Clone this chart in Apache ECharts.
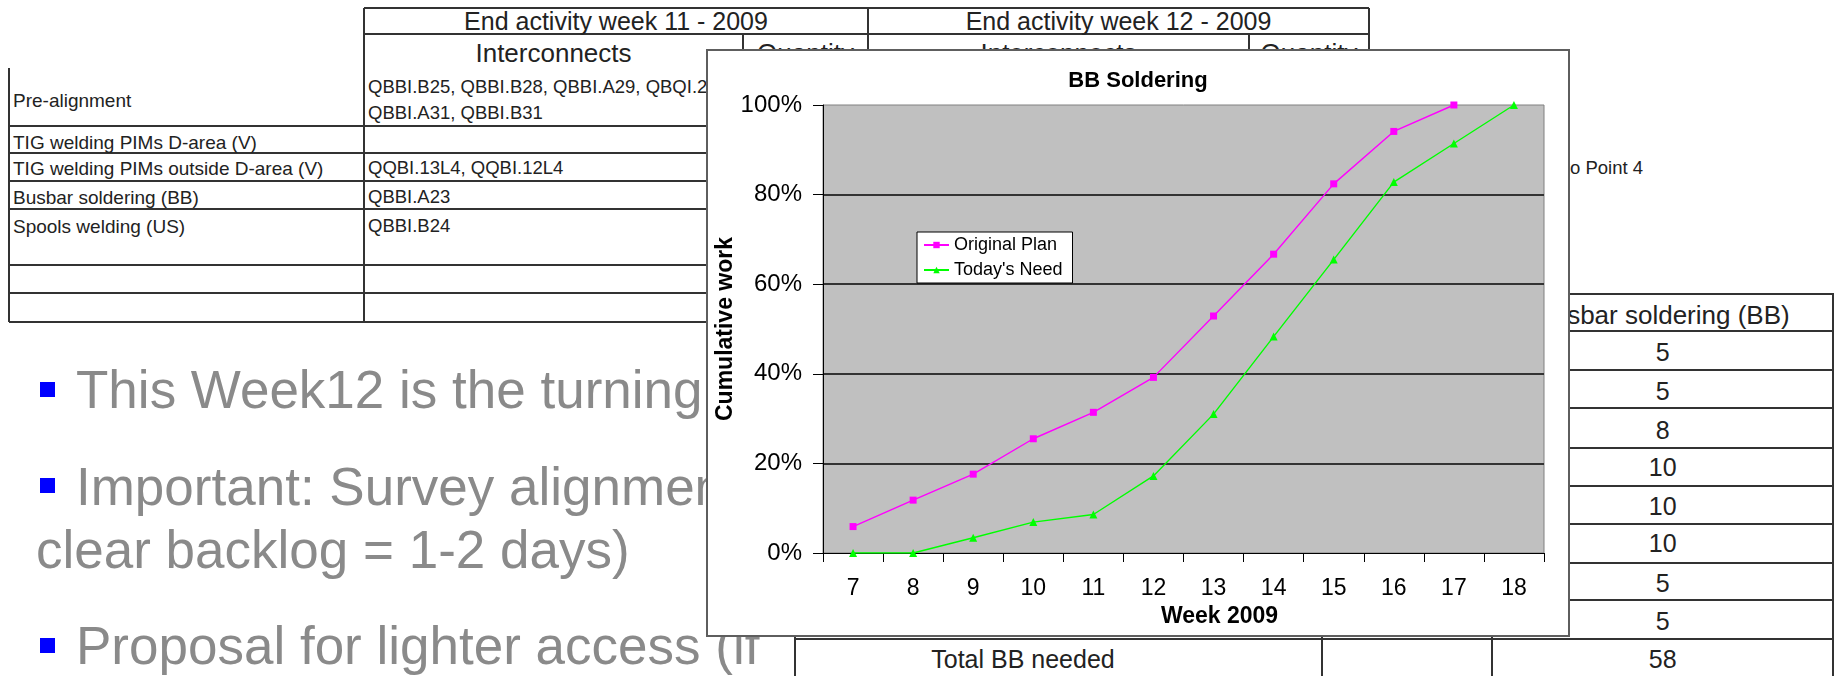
<!DOCTYPE html>
<html><head><meta charset="utf-8">
<script src="https://cdn.jsdelivr.net/npm/echarts@6/dist/echarts.min.js"></script>
<style>
html,body{margin:0;padding:0;background:#fff;overflow:hidden;width:1839px;height:676px}
#slide{position:absolute;left:0;top:0;width:1839px;height:676px;overflow:hidden;font-family:'Liberation Sans',Arial,sans-serif}
.t{position:absolute;white-space:nowrap;color:#222}
.ln{position:absolute;background:#333}
#chart{position:absolute;left:0;top:0;width:1839px;height:676px;z-index:10}
</style></head>
<body>
<div id="slide"></div>
<div id="chart"></div>
<script>
// ---------- data ----------
const weeks = ['7','8','9','10','11','12','13','14','15','16','17','18'];
const originalPlan = [5.9, 11.8, 17.6, 25.5, 31.4, 39.2, 52.9, 66.7, 82.4, 94.1, 100];
const todaysNeed = [0, 0, 3.4, 6.9, 8.6, 17.2, 31.0, 48.3, 65.5, 82.8, 91.4, 100];
const seriesNames = ['Original Plan', "Today's Need"];
const chartTitle = 'BB Soldering';
const xAxisTitle = 'Week 2009';
const yAxisTitle = 'Cumulative work';

const headerWeeks = ['End activity week 11 - 2009', 'End activity week 12 - 2009'];
const subHeaders = ['Interconnects', 'Quantity', 'Interconnects', 'Quantity'];
const rowLabels = ['Pre-alignment', 'TIG welding PIMs D-area (V)', 'TIG welding PIMs outside D-area (V)', 'Busbar soldering (BB)', 'Spools welding (US)'];
const week11Items = ['QBBI.B25, QBBI.B28, QBBI.A29, QBQI.29,', 'QBBI.A31, QBBI.B31', '', 'QQBI.13L4, QQBI.12L4', 'QBBI.A23', 'QBBI.B24'];
const bbHeader = 'Busbar soldering (BB)';
const bbPerWeek = ['5', '5', '8', '10', '10', '10', '5', '5'];
const bbTotalLabel = 'Total BB needed';
const bbTotal = '58';
const sideNote = 'to Point 4';
const bullets = ['This Week12 is the turning point', 'Important: Survey alignment', 'clear backlog = 1-2 days)', 'Proposal for lighter access (if'];

// ---------- slide background (HTML) ----------
const slide = document.getElementById('slide');
function el(cls, css, txt) {
  const d = document.createElement('div');
  d.className = cls;
  d.style.cssText = css;
  if (txt !== undefined) d.textContent = txt;
  slide.appendChild(d);
  return d;
}
function hline(y, x1, x2, z) { el('ln', `left:${x1}px;top:${y - 1}px;width:${x2 - x1}px;height:2px;z-index:${z}`); }
function vline(x, y1, y2, z) { el('ln', `left:${x - 1}px;top:${y1}px;width:2px;height:${y2 - y1}px;z-index:${z}`); }
function txtL(s, x, cy, fs, z, extra) { el('t', `left:${x}px;top:${cy - fs / 2}px;font-size:${fs}px;line-height:${fs}px;z-index:${z};${extra || ''}`, s); }
function txtC(s, cx, cy, fs, z, extra) { el('t', `left:${cx}px;top:${cy - fs / 2}px;font-size:${fs}px;line-height:${fs}px;transform:translateX(-50%);z-index:${z};${extra || ''}`, s); }
function txtR(s, rx, cy, fs, z, extra) { el('t', `right:${1839 - rx}px;top:${cy - fs / 2}px;font-size:${fs}px;line-height:${fs}px;z-index:${z};${extra || ''}`, s); }

// bullets
const gray = 'color:#8a8a8a';
const bulletSq = [389, 485, null, 645];
const bulletCy = [389.5, 486, 549, 645];
const bulletX = [76, 76, 36, 76];
bullets.forEach((b, i) => {
  if (bulletSq[i] !== null) el('t', `left:40px;top:${bulletSq[i] - 7.5}px;width:15px;height:15px;background:#0000ff;z-index:1`);
  txtL(b, bulletX[i], bulletCy[i], 53, 1, gray);
});

// top table
[[8, 364, 1369], [34, 364, 1369]].forEach(a => hline(a[0], a[1], a[2], 2));
[126, 152.7, 181, 209.3, 265, 293.3, 321.7].forEach(y => hline(y, 9, 1369, 2));
[[9, 68, 322], [364, 8, 322], [743, 34, 322], [868, 8, 322], [1249, 34, 322], [1369, 8, 322]].forEach(a => vline(a[0], a[1], a[2], 2));
txtC(headerWeeks[0], 616, 21, 25, 2);
txtC(headerWeeks[1], 1118.5, 21, 25, 2);
txtC(subHeaders[0], 553.5, 53, 26, 2);
txtC(subHeaders[1], 805.5, 53, 26, 2);
txtC(subHeaders[2], 1058.5, 53, 26, 2);
txtC(subHeaders[3], 1309, 53, 26, 2);
const rowCy = [100, 142, 168, 197, 226];
rowLabels.forEach((s, i) => txtL(s, 13, rowCy[i], 19, 2));
const itemCy = [87, 113, 142, 168, 197, 226];
week11Items.forEach((s, i) => { if (s) txtL(s, 368, itemCy[i], 18.5, 2); });

// side note
txtR(sideNote, 1643, 168, 18.5, 2);

// right table (white cells over the bullet text)
el('t', `left:795px;top:293px;width:1045px;height:390px;background:#fff;z-index:3`);
const rtY = [293.6, 331.3, 369.6, 407.5, 447.5, 485.8, 524.2, 562.5, 600, 639.3];
rtY.forEach(y => hline(y, 795, 1834, 3));
[[795, 293.6, 680], [1322, 293.6, 680], [1492, 293.6, 680], [1833, 293.6, 680]].forEach(a => vline(a[0], a[1], a[2], 3));
txtC(bbHeader, 1662.5, 314.5, 26, 3);
const valCy = [352.8, 391.8, 430, 467.7, 506, 543.6, 583.3, 621.6];
bbPerWeek.forEach((v, i) => txtC(v, 1662.7, valCy[i], 25, 3));
txtC(bbTotal, 1662.7, 659.2, 25, 3);
txtC(bbTotalLabel, 1023, 659, 25, 3);

// chart frame
el('t', `left:706px;top:49px;width:864px;height:588px;box-sizing:border-box;border:2px solid #5e5e5e;background:#fff;z-index:4`);

// ---------- chart ----------
const FONT = "'Liberation Sans', Arial, sans-serif";
const chart = echarts.init(document.getElementById('chart'), null, {renderer: 'canvas'});
chart.setOption({
  backgroundColor: 'transparent',
  animation: false,
  title: {
    text: chartTitle, left: 1138, top: 70, textAlign: 'center', padding: 0,
    textStyle: {fontSize: 22, fontWeight: 'bold', color: '#000', fontFamily: FONT}
  },
  legend: {
    data: seriesNames, orient: 'vertical', left: 917, top: 232,
    backgroundColor: '#fff', borderColor: '#000', borderWidth: 1, borderRadius: 0,
    padding: [4, 10, 4, 6], itemGap: 7, itemWidth: 25, itemHeight: 8,
    textStyle: {fontSize: 18, color: '#000', fontFamily: FONT}
  },
  grid: {
    left: 823, top: 105, width: 721, height: 448, show: true,
    backgroundColor: '#c0c0c0', borderColor: '#808080', borderWidth: 1
  },
  xAxis: {
    type: 'category', data: weeks, boundaryGap: true,
    name: xAxisTitle, nameLocation: 'middle', nameGap: 50,
    nameTextStyle: {fontSize: 23, fontWeight: 'bold', color: '#000', fontFamily: FONT, padding: [0, 0, 0, 72]},
    axisLine: {show: true, lineStyle: {color: '#000', width: 1}},
    axisTick: {show: true, length: 9, interval: 0, alignWithLabel: false, lineStyle: {color: '#000'}},
    axisLabel: {interval: 0, margin: 24, fontSize: 23, color: '#000', fontFamily: FONT},
    splitLine: {show: false}
  },
  yAxis: {
    type: 'value', min: 0, max: 100, interval: 20,
    name: yAxisTitle, nameLocation: 'middle', nameGap: 85, nameRotate: 90,
    nameTextStyle: {fontSize: 23, fontWeight: 'bold', color: '#000', fontFamily: FONT},
    axisLine: {show: true, lineStyle: {color: '#000', width: 1}},
    axisTick: {show: true, length: 10, lineStyle: {color: '#000'}},
    axisLabel: {formatter: '{value}%', margin: 21, fontSize: 24, color: '#000', fontFamily: FONT},
    splitLine: {show: true, showMinLine: false, showMaxLine: false, lineStyle: {color: '#333', width: 2}}
  },
  series: [
    {
      name: seriesNames[0], type: 'line', data: originalPlan,
      symbol: 'rect', symbolSize: 7, showAllSymbol: true,
      lineStyle: {color: '#ff00ff', width: 1.4}, itemStyle: {color: '#ff00ff'}
    },
    {
      name: seriesNames[1], type: 'line', data: todaysNeed,
      symbol: 'triangle', symbolSize: 8, showAllSymbol: true,
      lineStyle: {color: '#00ff00', width: 1.4}, itemStyle: {color: '#00ff00'}
    }
  ]
});
</script>
</body></html>
